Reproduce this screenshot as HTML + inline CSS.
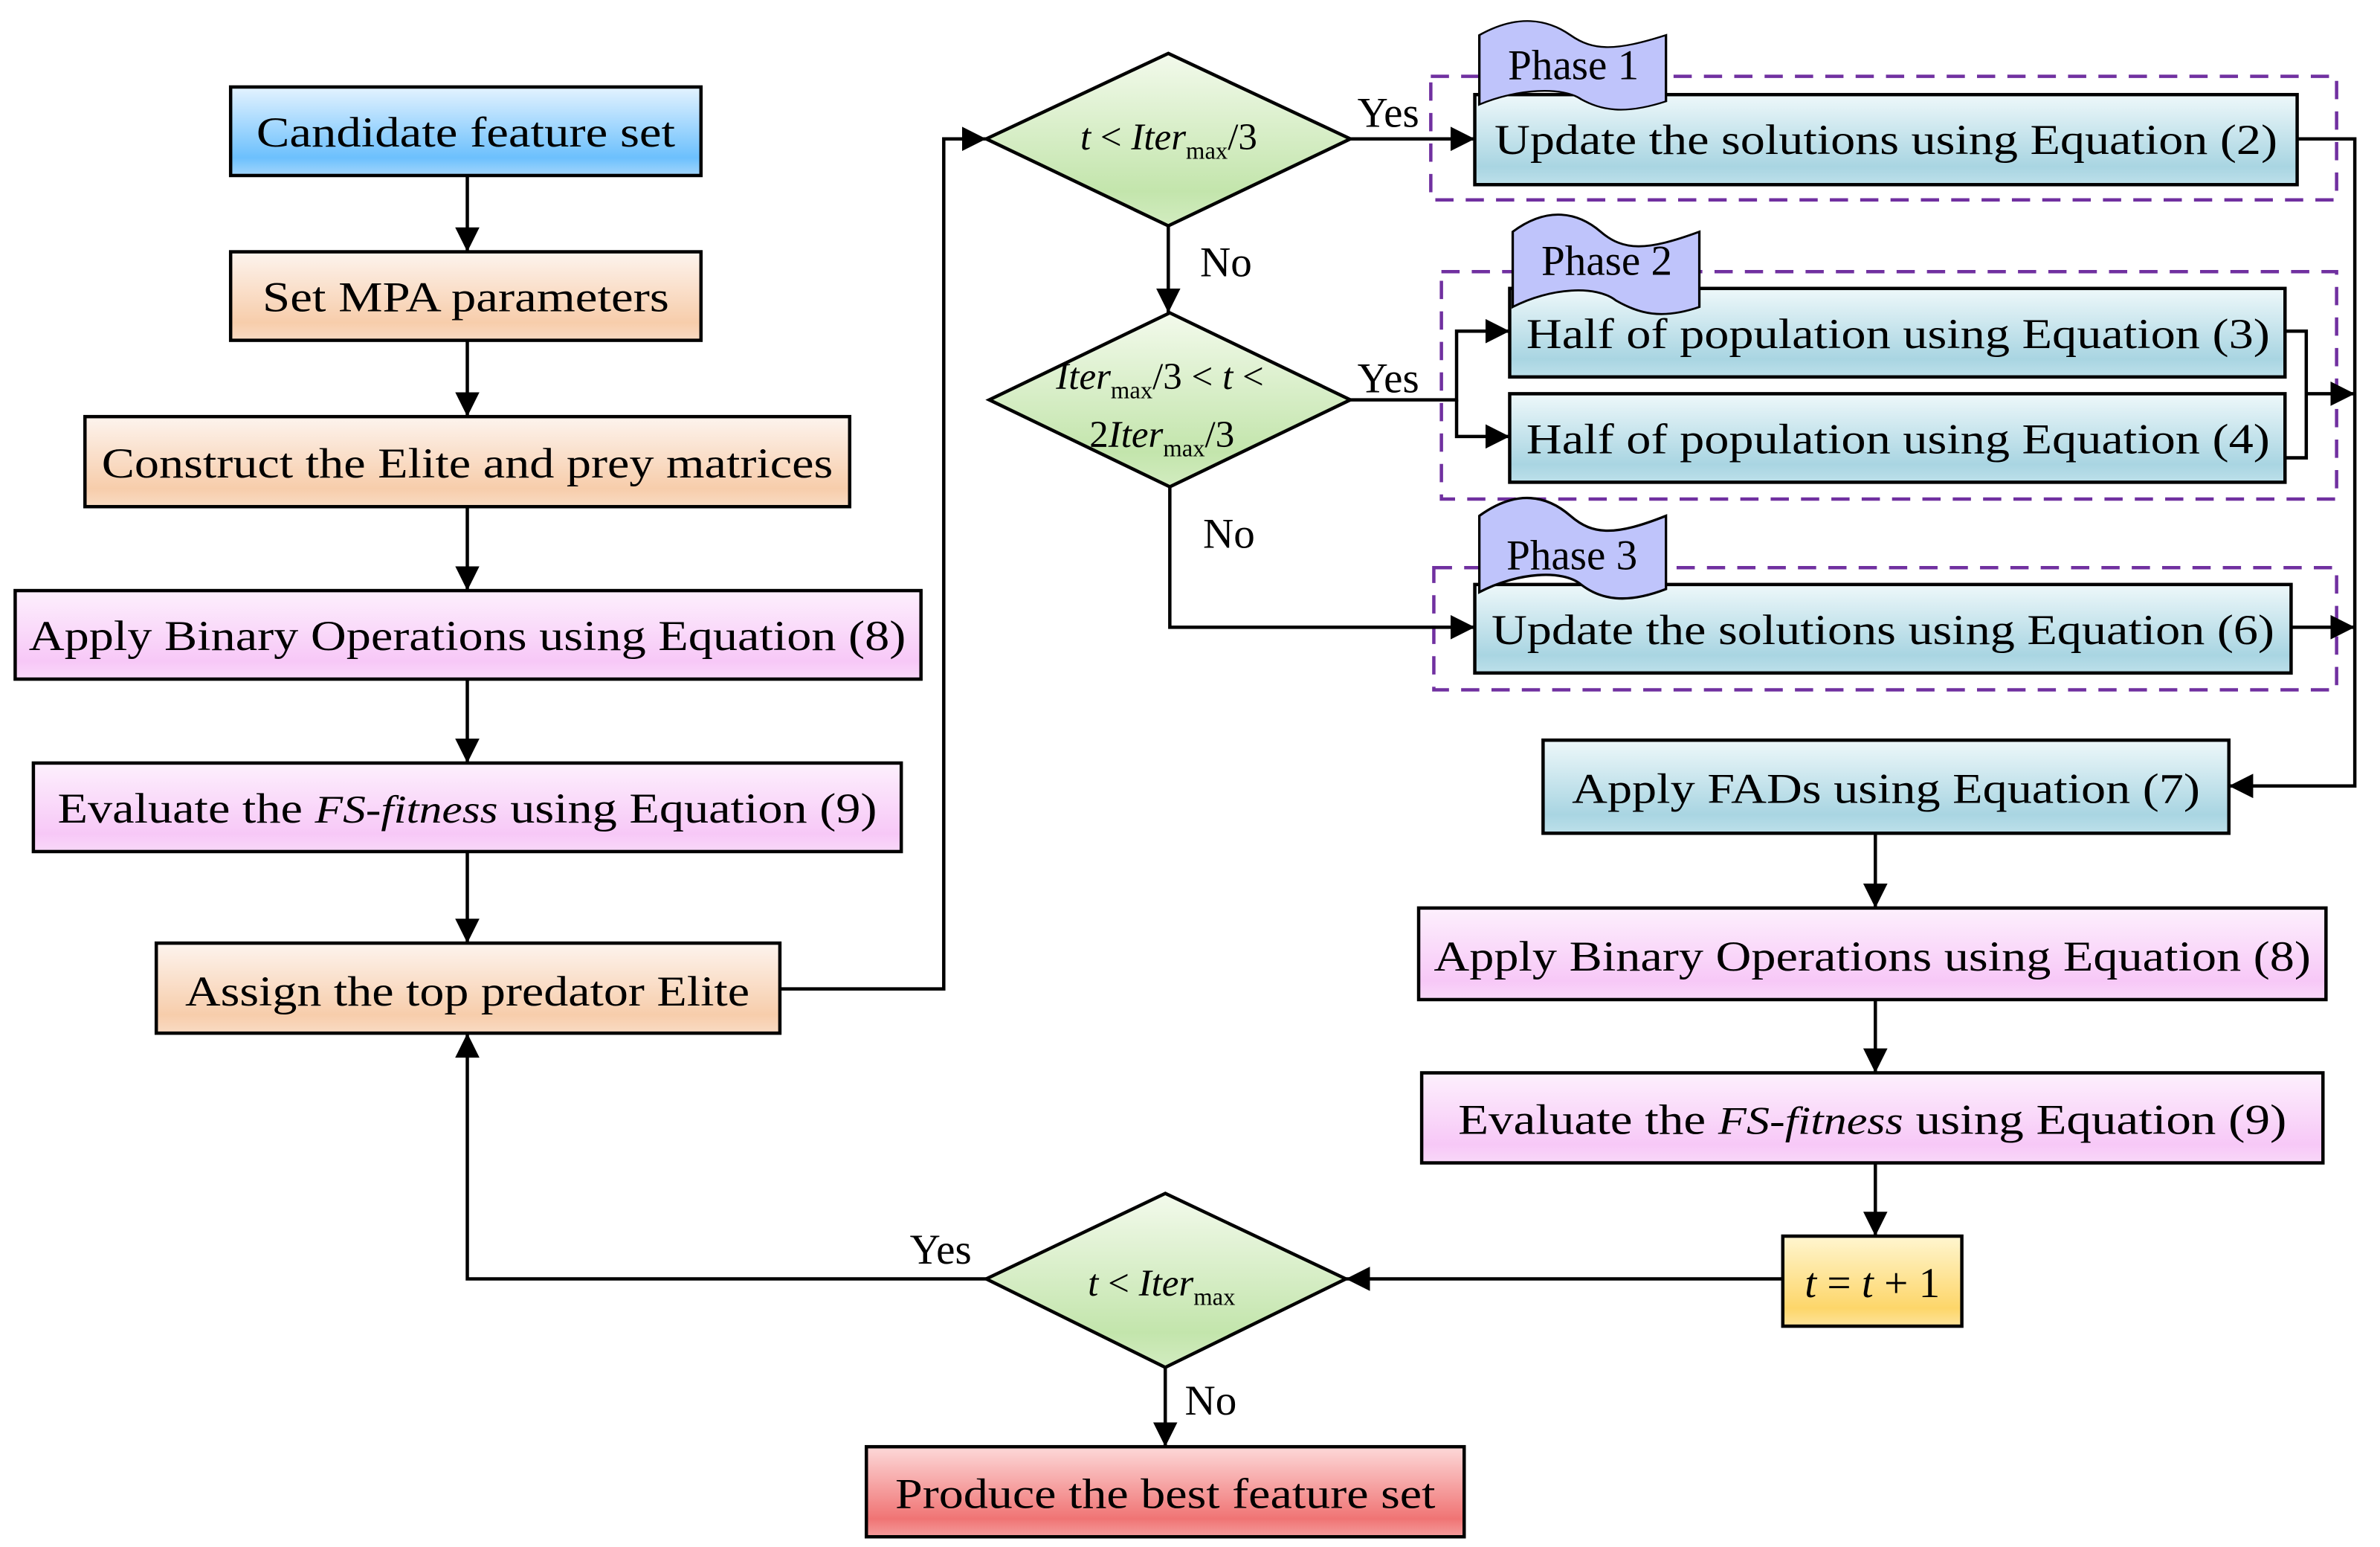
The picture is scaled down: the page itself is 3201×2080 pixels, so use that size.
<!DOCTYPE html>
<html><head><meta charset="utf-8"><style>html,body{margin:0;padding:0;background:#fff}svg{display:block}</style></head>
<body>
<svg xmlns="http://www.w3.org/2000/svg" width="3201" height="2080" viewBox="0 0 1568.6 1013.7" preserveAspectRatio="none" font-family="'Liberation Serif', serif">
<defs>
<linearGradient id="gb" x1="0" y1="0" x2="0" y2="1"><stop offset="0" stop-color="#e4f3fe"/><stop offset="0.8" stop-color="#6cc0fd"/><stop offset="1" stop-color="#a4d6fc"/></linearGradient>
<linearGradient id="go" x1="0" y1="0" x2="0" y2="1"><stop offset="0" stop-color="#fdf4ee"/><stop offset="0.8" stop-color="#f7cdab"/><stop offset="1" stop-color="#f9dbc3"/></linearGradient>
<linearGradient id="gp" x1="0" y1="0" x2="0" y2="1"><stop offset="0" stop-color="#fdf0fd"/><stop offset="0.8" stop-color="#f7c8f7"/><stop offset="1" stop-color="#f9d8f9"/></linearGradient>
<linearGradient id="gc" x1="0" y1="0" x2="0" y2="1"><stop offset="0" stop-color="#eef8fa"/><stop offset="0.8" stop-color="#a9d5e2"/><stop offset="1" stop-color="#bde0ea"/></linearGradient>
<linearGradient id="gg" x1="0" y1="0" x2="0" y2="1"><stop offset="0" stop-color="#f3faec"/><stop offset="0.8" stop-color="#c3e5ac"/><stop offset="1" stop-color="#d2ecc0"/></linearGradient>
<linearGradient id="gy" x1="0" y1="0" x2="0" y2="1"><stop offset="0" stop-color="#fff6d0"/><stop offset="0.8" stop-color="#fdd66a"/><stop offset="1" stop-color="#fde39a"/></linearGradient>
<linearGradient id="gr" x1="0" y1="0" x2="0" y2="1"><stop offset="0" stop-color="#fdd9d9"/><stop offset="0.8" stop-color="#f07474"/><stop offset="1" stop-color="#f49c9c"/></linearGradient>
<marker id="ar" viewBox="0 0 10 10" refX="10" refY="5" markerWidth="16" markerHeight="16" markerUnits="userSpaceOnUse" orient="auto"><path d="M0,0 L10,5 L0,10 z" fill="#000"/></marker>
</defs>
<g stroke="#000" stroke-width="2.2">
<rect x="152" y="57" width="310" height="58" fill="url(#gb)"/>
<rect x="152" y="165" width="310" height="58" fill="url(#go)"/>
<rect x="56" y="273" width="504" height="59" fill="url(#go)"/>
<rect x="10" y="387" width="597" height="58" fill="url(#gp)"/>
<rect x="22" y="500" width="572" height="58" fill="url(#gp)"/>
<rect x="103" y="618" width="411" height="59" fill="url(#go)"/>
<polygon points="770,35 890,91 770,148 650,91" fill="url(#gg)"/>
<polygon points="771,205 890,262 771,319 652,262" fill="url(#gg)"/>
<polygon points="768,782 887,838 768,896 650,838" fill="url(#gg)"/>
<rect x="1017" y="485" width="452" height="61" fill="url(#gc)"/>
<rect x="935" y="595" width="598" height="60" fill="url(#gp)"/>
<rect x="937" y="703" width="594" height="59" fill="url(#gp)"/>
<rect x="1175" y="810" width="118" height="59" fill="url(#gy)"/>
<rect x="571" y="948" width="394" height="59" fill="url(#gr)"/>
<rect x="972" y="62" width="542" height="59" fill="url(#gc)"/>
<rect x="995" y="189" width="511" height="58" fill="url(#gc)"/>
<rect x="995" y="258" width="511" height="58" fill="url(#gc)"/>
<rect x="972" y="383" width="538" height="58" fill="url(#gc)"/>
</g>
<g fill="none" stroke="#7030a0" stroke-width="2.2" stroke-dasharray="12,8">
<rect x="943" y="50" width="597" height="81"/>
<rect x="950" y="178" width="590" height="149"/>
<rect x="945" y="372" width="595" height="80"/>
</g>
<g fill="#bfc4fb" stroke="#000" stroke-width="1.6">
<path d="M975,30 C1000,10 1020,15 1035,30 C1050,45 1065,45 1098,30 L1098,92 C1070,105 1055,100 1042,90 C1030,78 1000,80 975,95 Z" transform="translate(0,-5) scale(1,0.7) translate(0,10)"/>
<path d="M997,157 C1020,137 1040,142 1055,157 C1070,172 1085,172 1120,157 L1120,215 C1095,225 1080,220 1065,210 C1052,198 1022,200 997,215 Z" transform="translate(0,-2) scale(1,0.85) translate(0,24)"/>
<path d="M975,350 C1000,332 1020,337 1035,350 C1050,363 1065,363 1098,350 L1098,398 C1072,408 1055,405 1042,395 C1030,385 1000,387 975,400 Z" transform="translate(0,-12)"/>
</g>
<g fill="none" stroke="#000" stroke-width="2.2" marker-end="url(#ar)">
<path d="M308,115 V165"/><path d="M308,223 V273"/><path d="M308,332 V387"/><path d="M308,445 V500"/><path d="M308,558 V618"/>
<path d="M514,648 H622 V91 H650"/>
<path d="M890,91 H972"/>
<path d="M770,148 V205"/>
<path d="M890,262 H960 V217 H995"/><path d="M960,262 V286 H995"/>
<path d="M771,319 V411 H972"/>
<path d="M1514,91 H1552 V515 H1469"/>
<path d="M1520,258 H1552"/>
<path d="M1510,411 H1552"/>
<path d="M1236,546 V595"/><path d="M1236,655 V703"/><path d="M1236,762 V810"/>
<path d="M1175,838 H887"/>
<path d="M650,838 H308 V677"/>
<path d="M768,896 V948"/>
</g>
<path d="M1506,217 H1520 V300 H1506" fill="none" stroke="#000" stroke-width="2.2"/>
<g font-size="28" text-anchor="middle" fill="#000">
<text x="307" y="96" textLength="276" lengthAdjust="spacingAndGlyphs">Candidate feature set</text>
<text x="307" y="204" textLength="268" lengthAdjust="spacingAndGlyphs">Set MPA parameters</text>
<text x="308" y="313" textLength="482" lengthAdjust="spacingAndGlyphs">Construct the Elite and prey matrices</text>
<text x="308" y="426" textLength="578" lengthAdjust="spacingAndGlyphs">Apply Binary Operations using Equation (8)</text>
<text x="308" y="539" textLength="540" lengthAdjust="spacingAndGlyphs">Evaluate the <tspan font-style="italic" font-size="26">FS-fitness</tspan> using Equation (9)</text>
<text x="308" y="659" textLength="372" lengthAdjust="spacingAndGlyphs">Assign the top predator Elite</text>
<text x="1243" y="101" textLength="516" lengthAdjust="spacingAndGlyphs">Update the solutions using Equation (2)</text>
<text x="1251" y="228" textLength="490" lengthAdjust="spacingAndGlyphs">Half of population using Equation (3)</text>
<text x="1251" y="297" textLength="490" lengthAdjust="spacingAndGlyphs">Half of population using Equation (4)</text>
<text x="1241" y="422" textLength="516" lengthAdjust="spacingAndGlyphs">Update the solutions using Equation (6)</text>
<text x="1243" y="526" textLength="414" lengthAdjust="spacingAndGlyphs">Apply FADs using Equation (7)</text>
<text x="1234" y="636" textLength="578" lengthAdjust="spacingAndGlyphs">Apply Binary Operations using Equation (8)</text>
<text x="1234" y="743" textLength="546" lengthAdjust="spacingAndGlyphs">Evaluate the <tspan font-style="italic" font-size="26">FS-fitness</tspan> using Equation (9)</text>
<text x="1234" y="850"><tspan font-style="italic">t</tspan> = <tspan font-style="italic">t</tspan> + 1</text>
<text x="768" y="988" textLength="356" lengthAdjust="spacingAndGlyphs">Produce the best feature set</text>
<text x="1037" y="52">Phase 1</text>
<text x="1059" y="180">Phase 2</text>
<text x="1036" y="373">Phase 3</text>
<text x="915" y="83">Yes</text>
<text x="915" y="257">Yes</text>
<text x="620" y="828">Yes</text>
<text x="808" y="181">No</text>
<text x="810" y="359">No</text>
<text x="798" y="927">No</text>
</g>
<g font-size="25" fill="#000">
<text x="712" y="98"><tspan font-style="italic">t</tspan> &lt; <tspan font-style="italic">Iter</tspan><tspan font-size="16" dy="6">max</tspan><tspan dy="-6">/3</tspan></text>
<text x="696" y="255"><tspan font-style="italic">Iter</tspan><tspan font-size="16" dy="6">max</tspan><tspan dy="-6">/3 &lt; </tspan><tspan font-style="italic">t</tspan> &lt;</text>
<text x="718" y="293">2<tspan font-style="italic">Iter</tspan><tspan font-size="16" dy="6">max</tspan><tspan dy="-6">/3</tspan></text>
<text x="717" y="849"><tspan font-style="italic">t</tspan> &lt; <tspan font-style="italic">Iter</tspan><tspan font-size="16" dy="6">max</tspan></text>
</g>
</svg>
</body></html>
